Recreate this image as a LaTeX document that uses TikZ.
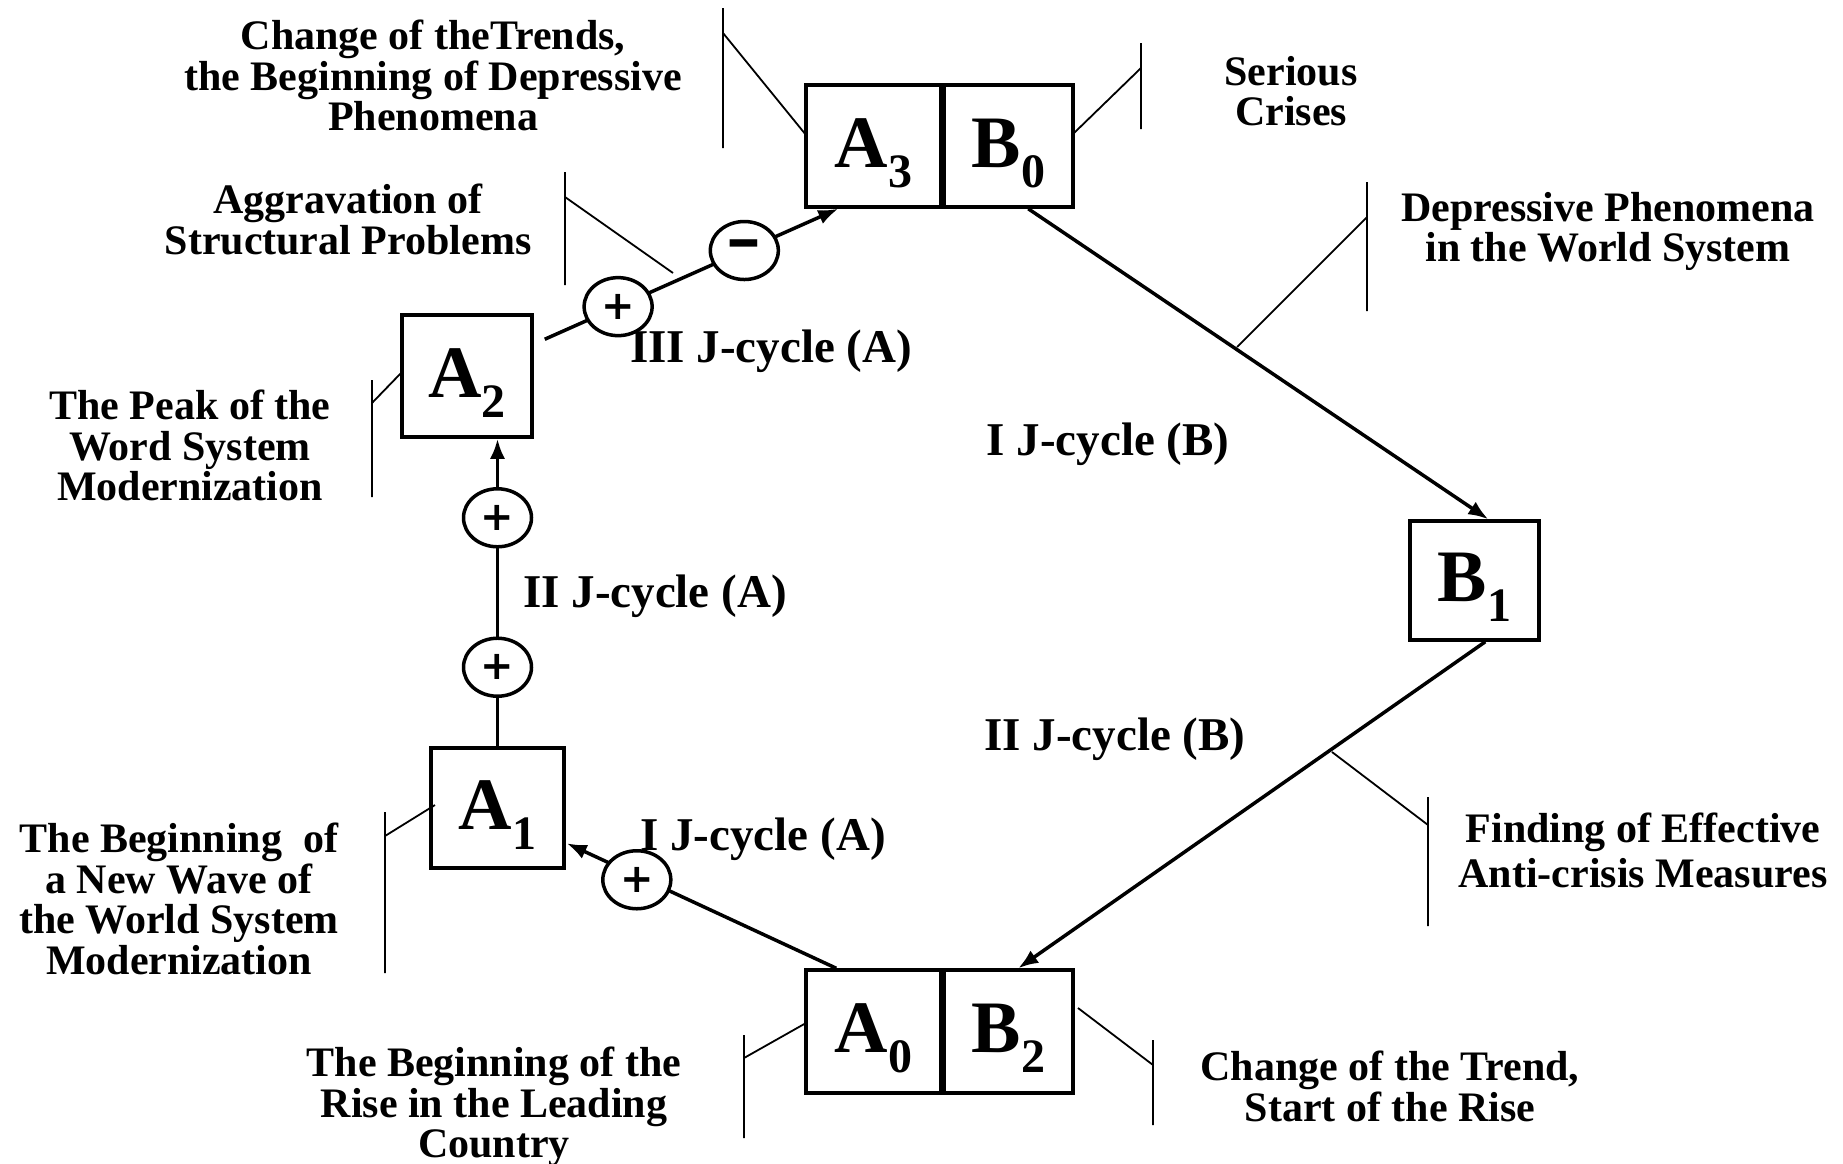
\documentclass[tikz,border=0pt]{standalone}
\usepackage{fontspec}
\usepackage{graphicx}
\setmainfont{Liberation Serif}
\newfontfamily\signfont{DejaVu Sans}
\usetikzlibrary{shapes.geometric,arrows.meta,calc}
\newcommand\stg[2]{#1\raisebox{-20pt}{\fontsize{48}{48}\selectfont #2}}
\begin{document}
\begin{tikzpicture}[x=1pt,y=-1pt,
  lbl/.style={font=\bfseries\fontsize{42}{40.5}\selectfont, align=center, inner sep=0pt, anchor=north},
  jlbl/.style={font=\bfseries\fontsize{47}{47}\selectfont, inner sep=0pt, anchor=base},
  stage/.style={draw, line width=3.5pt, inner sep=0pt, minimum height=122pt,
    font=\bfseries\fontsize{74}{74}\selectfont, text height=52pt, text depth=10pt},
  conn/.style={line width=3.5pt},
  arr/.style={conn, -{Latex[length=20pt,width=15pt]}},
  sign/.style={draw, ellipse, line width=3.5pt, fill=white, minimum width=68pt,
    minimum height=58pt, inner sep=0pt, font=\signfont\bfseries\fontsize{40}{40}\selectfont},
  leader/.style={line width=1.8pt}
]
\useasboundingbox (0,0) rectangle (1843,1163);

% stage boxes
\node[stage, minimum width=135pt] (A3) at (873.5,146) {\stg{A}{3}};
\node[stage, minimum width=129pt] (B0) at (1008.5,146) {\stg{B}{0}};
\node[stage, minimum width=130pt] (A2) at (467,376) {\stg{A}{2}};
\node[stage, minimum width=133pt, minimum height=120pt] (A1) at (497.5,808) {\stg{A}{1}};
\node[stage, minimum width=129pt, minimum height=119pt] (B1) at (1474.5,580.5) {\stg{B}{1}};
\node[stage, minimum width=135pt, minimum height=123pt] (A0) at (873.5,1031.5) {\stg{A}{0}};
\node[stage, minimum width=129pt, minimum height=123pt] (B2) at (1008.5,1031.5) {\stg{B}{2}};

% connectors
\draw[arr] ($(A0.north west)+(32,0)$) -- node[sign,pos=0.74,yshift=-4pt] (s1) {+} ($(A1.north east)+(1,97)$);
\draw[arr] (A1.north) -- node[sign,pos=0.257] (s2) {+} node[sign,pos=0.743] (s3) {+} (A1.north |- A2.south);
\draw[arr] ($(A2.north east)+(11,26)$) -- node[sign,pos=0.25] (s4) {+} node[sign,pos=0.68] (s5) {\smash{\raisebox{-13pt}{\scalebox{1.1}[1.6]{−}}}} ($(A3.south west)+(34,0)$);
\draw[arr] ($(B0.south west)+(86,0)$) -- ($(B1.north west)+(80,0)$);
\draw[arr] ($(B1.south west)+(77,0)$) -- ($(B2.north west)+(76,0)$);

% leader marks
\draw[leader] (723,8) -- (723,148) (723,33) -- (806,135);
\draw[leader] (1141,43) -- (1141,129) (1141,68) -- (1073,134);
\draw[leader] (565,172) -- (565,285) (565,197) -- (673,273);
\draw[leader] (1367,182) -- (1367,311) (1367,217) -- (1237,347);
\draw[leader] (1428,797) -- (1428,926) (1428,825) -- (1332,752);
\draw[leader] (744,1035) -- (744,1138) (744,1058) -- (806,1023);
\draw[leader] (1153,1040) -- (1153,1125) (1078,1008) -- (1153,1065);
\draw[leader] (372,380) -- (372,497) (372,403) -- (402,372);
\draw[leader] (385,812) -- (385,973) (385,836) -- (435,805);

% texts
\node[lbl] (tchg) at (433,20) {Change of theTrends,\\the Beginning of Depressive\\Phenomena};
\node[lbl] (tser) at (1291,56) {Serious\\Crises};
\node[lbl] (tagg) at (348,184) {Aggravation of\\Structural Problems};
\node[lbl] (tdep) at (1608,192) {Depressive Phenomena\\in the World System};
\node[lbl] (tpeak) at (190,390) {The Peak of the\\Word System\\Modernization};
\node[lbl] (twave) at (179,823) {The Beginning\ \ of\\a New Wave of\\the World System\\Modernization};
\node[lbl] (trise) at (494,1047) {The Beginning of the\\Rise in the Leading\\Country};
\node[lbl] (ttrend) at (1390,1051) {Change of the Trend,\\Start of the Rise};
\node[lbl, font=\bfseries\fontsize{42}{45}\selectfont] (tfind) at (1643,813) {Finding of Effective\\Anti-crisis Measures};

\node[jlbl] (j3a) at (771,362) {III J-cycle (A)};
\node[jlbl] (j1b) at (1108,455) {I J-cycle (B)};
\node[jlbl] (j2a) at (655,607) {II J-cycle (A)};
\node[jlbl] (j2b) at (1115,750) {II J-cycle (B)};
\node[jlbl] (j1a) at (763,850) {I J-cycle (A)};
\end{tikzpicture}
\end{document}
